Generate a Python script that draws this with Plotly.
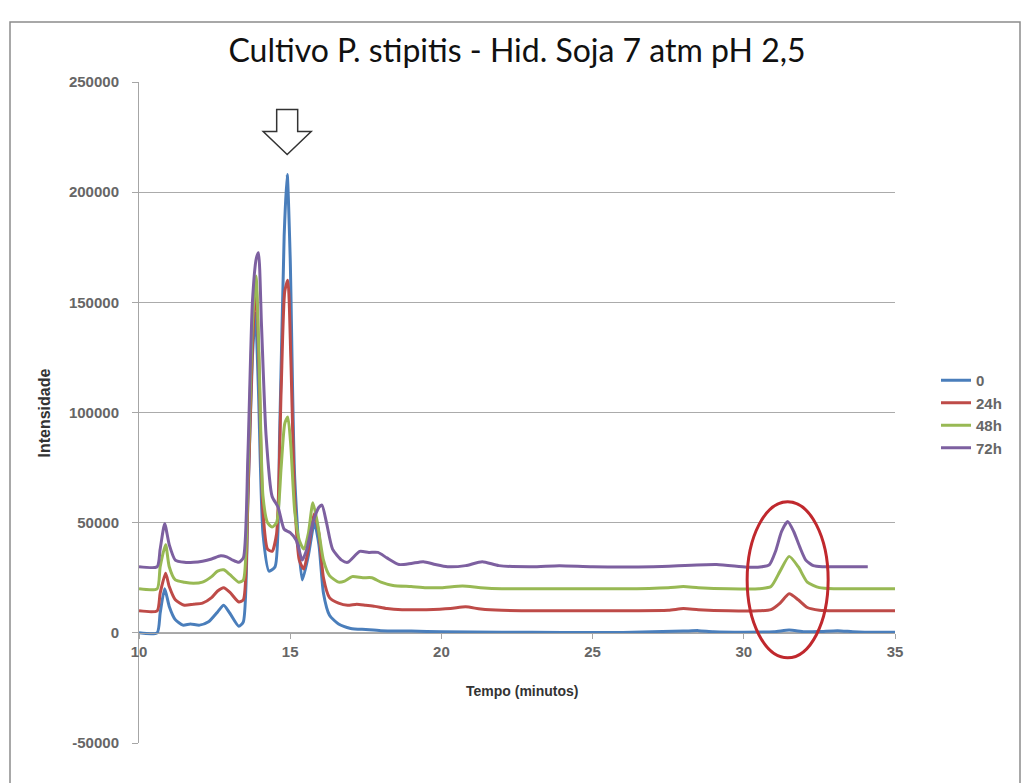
import plotly.graph_objects as go

# ---------------- data ----------------
title_text = "Cultivo P. stipitis - Hid. Soja 7 atm pH 2,5"
series_names = ["0", "24h", "48h", "72h"]
series_colors = ["#4A7EBB", "#BE4B48", "#98B954", "#7D60A0"]

t_0 = [10.0, 10.6, 10.7, 10.85, 11.0, 11.2, 11.45, 11.7, 12.0, 12.3, 12.6, 12.8, 13.0, 13.3,
       13.45, 13.6, 13.75, 13.85, 13.95, 14.1, 14.3, 14.5, 14.65, 14.8, 14.9, 15.0, 15.15,
       15.4, 15.6, 15.8, 15.95, 16.1, 16.3, 16.6, 17.0, 17.5, 18.0, 19.0, 20.0, 22.0, 24.0,
       26.0, 28.0, 28.5, 29.0, 30.0, 31.0, 31.5, 32.0, 32.5, 33.1, 33.6, 34.0, 35.0]
y_0 = [0, 0, 9000, 20000, 12000, 6000, 3500, 4000, 3500, 5000, 9500, 12500, 9000, 3000,
       5000, 60000, 125000, 145000, 110000, 45000, 28000, 30000, 90000, 180000, 208000, 170000, 70000,
       24000, 35000, 50000, 40000, 18000, 8000, 4000, 2000, 1500, 1000, 800, 500, 300, 200,
       200, 800, 1000, 500, 300, 500, 1300, 500, 600, 1000, 500, 300, 300]

t_24 = [10.0, 10.6, 10.7, 10.88, 11.0, 11.2, 11.5, 11.8, 12.1, 12.4, 12.6, 12.8, 13.0, 13.3,
        13.45, 13.6, 13.75, 13.87, 13.97, 14.1, 14.25, 14.4, 14.55, 14.7, 14.82, 14.92, 15.02,
        15.15, 15.3, 15.45, 15.6, 15.8, 15.95, 16.1, 16.3, 16.6, 16.9, 17.2, 17.5, 17.8, 18.2,
        18.7, 19.5, 20.3, 20.8, 21.3, 22.0, 24.0, 26.0, 27.5, 28.0, 28.5, 29.5, 30.5, 30.9,
        31.2, 31.5, 31.8, 32.1, 32.5, 33.0, 34.0, 35.0]
y_24 = [10000, 10000, 18000, 27000, 21000, 15000, 12500, 13000, 13500, 16000, 19000, 20500, 18500, 14000,
        15000, 60000, 130000, 158000, 120000, 55000, 38000, 37000, 45000, 110000, 155000, 160000, 125000,
        60000, 33000, 29000, 38000, 54000, 45000, 25000, 16000, 13500, 12500, 13000, 12500, 12000, 11000,
        10500, 10500, 11000, 11800, 10800, 10200, 10000, 10000, 10200, 11000, 10500, 10000, 10000, 10500,
        13500, 17700, 15000, 11500, 10300, 10000, 10000, 10000]

t_48 = [10.0, 10.6, 10.7, 10.88, 11.0, 11.2, 11.5, 11.8, 12.1, 12.4, 12.6, 12.8, 13.0, 13.3,
        13.45, 13.6, 13.75, 13.87, 13.97, 14.1, 14.25, 14.4, 14.55, 14.7, 14.82, 14.92, 15.02,
        15.15, 15.3, 15.45, 15.6, 15.75, 15.9, 16.1, 16.3, 16.6, 16.8, 17.05, 17.4, 17.7, 18.0,
        18.4, 19.0, 19.5, 20.0, 20.7, 21.3, 22.0, 24.0, 26.0, 27.5, 28.0, 28.5, 29.5, 30.5,
        30.9, 31.2, 31.5, 31.8, 32.1, 32.5, 33.0, 34.0, 35.0]
y_48 = [20000, 20000, 30000, 40000, 30000, 24000, 23000, 22500, 23000, 25500, 28000, 28600, 26500, 23000,
        24000, 70000, 140000, 162000, 125000, 62000, 50000, 48000, 50000, 75000, 95000, 98000, 85000,
        55000, 42000, 38000, 45000, 59000, 50000, 33000, 26000, 23000, 23500, 25500, 25000, 25000, 23000,
        21500, 21000, 20500, 20500, 21300, 20500, 20000, 20000, 20000, 20500, 21000, 20500, 20000, 20000,
        21000, 28000, 34700, 30000, 23000, 20500, 20000, 20000, 20000]

t_72 = [10.0, 10.6, 10.7, 10.85, 11.0, 11.2, 11.5, 11.8, 12.1, 12.4, 12.7, 12.9, 13.1, 13.3,
        13.45, 13.6, 13.75, 13.88, 13.95, 14.05, 14.2, 14.4, 14.6, 14.8, 15.0, 15.2, 15.4,
        15.55, 15.75, 15.95, 16.05, 16.2, 16.4, 16.7, 16.9, 17.3, 17.6, 17.9, 18.2, 18.6, 19.0,
        19.4, 19.8, 20.2, 20.8, 21.35, 21.9, 23.0, 23.9, 25.0, 27.0, 29.1, 30.1, 30.6, 30.85,
        31.05, 31.25, 31.45, 31.65, 31.85, 32.05, 32.3, 32.6, 33.2, 34.1]
y_72 = [30000, 30000, 38000, 49500, 40000, 33000, 32000, 32000, 32500, 33500, 35000, 34500, 33000, 32000,
        34000, 80000, 150000, 170000, 172500, 140000, 90000, 62000, 57000, 47000, 45500, 42000, 33000,
        38000, 50000, 57000, 58000, 50000, 38000, 33000, 32000, 37000, 36500, 36500, 34000, 31000, 31500,
        32300, 31000, 30000, 30500, 32300, 30500, 30000, 30500, 30000, 30000, 31000, 29800, 30000, 31000,
        37000, 46000, 50500, 46000, 39000, 33000, 30500, 30000, 30000, 30000]

x_ticks = [10, 15, 20, 25, 30, 35]
y_ticks = [-50000, 0, 50000, 100000, 150000, 200000, 250000]

series_t = [t_0, t_24, t_48, t_72]
series_y = [y_0, y_24, y_48, y_72]

# ---------------- figure ----------------
W, H = 1024, 783
L, R, T, B = 139, 129, 82, 40
pw, ph = W - L - R, H - T - B

fig = go.Figure()
for name, col, tt, yy in zip(series_names, series_colors, series_t, series_y):
    fig.add_trace(go.Scatter(x=tt, y=yy, name=name, mode="lines", legendgroup=name,
                             line=dict(color=col, width=3, shape="spline", smoothing=0.6)))

FONT = "Liberation Sans, Arial, sans-serif"
tick_font = dict(family=FONT, size=15, color="#666666", weight="bold")

fig.update_layout(
    width=W, height=H,
    margin=dict(l=L, r=R, t=T, b=B),
    paper_bgcolor="white", plot_bgcolor="white",
    title=dict(text=title_text, x=0.5, xref="paper", xanchor="center",
               y=1 - 51 / H, yref="container", yanchor="middle",
               font=dict(family="Lato, Open Sans, sans-serif", size=32, color="#111111")),
    xaxis=dict(range=[10, 35], tickvals=x_ticks, showgrid=False, zeroline=False,
               anchor="free", position=(0 - y_ticks[0]) / (y_ticks[-1] - y_ticks[0]),
               showline=True, linecolor="#a6a6a6", linewidth=1,
               ticks="outside", ticklen=5, tickcolor="#a6a6a6",
               tickfont=tick_font),
    yaxis=dict(range=[y_ticks[0], y_ticks[-1]], tickvals=y_ticks, ticktext=[str(v) for v in y_ticks],
               showgrid=True, gridcolor="#ababab", gridwidth=1.2, zeroline=False,
               showline=True, linecolor="#a6a6a6", linewidth=1,
               ticks="outside", ticklen=6, tickcolor="#a6a6a6",
               ticklabelstandoff=10, tickfont=tick_font),
    legend=dict(x=(936 - L) / pw, xanchor="left", y=(H - B - 364) / ph, yanchor="top",
                font=dict(family=FONT, size=15, color="#666666", weight="bold"),
                bgcolor="rgba(0,0,0,0)", borderwidth=0, tracegroupgap=0),
    showlegend=True,
)

# axis titles
fig.add_annotation(text="<b>Tempo (minutos)</b>", xref="paper", yref="paper",
                   x=(522 - L) / pw, y=(H - B - 701) / ph, showarrow=False,
                   font=dict(family=FONT, size=14, color="#333333"))
fig.add_annotation(text="<b>Intensidade</b>", xref="paper", yref="paper",
                   x=(33 - L) / pw, y=(H - B - 413) / ph, showarrow=False, textangle=-90,
                   font=dict(family=FONT, size=16, color="#333333"))

# chart border
fig.add_shape(type="rect", xref="paper", yref="paper",
              x0=(10 - L) / pw, x1=(1020 - L) / pw, y0=(H - B - 800) / ph, y1=(H - B - 22) / ph,
              line=dict(color="#8c8c8c", width=1.5), fillcolor="rgba(0,0,0,0)", layer="below")

# hollow arrow pointing at the main peak of series "0"
i_pk = y_0.index(max(y_0))
arrow_path = "M -10.5 65 L 10.5 65 L 10.5 43 L 24 43 L 0 20 L -24 43 L -10.5 43 Z"
fig.add_shape(type="path", xref="x", yref="y", xsizemode="pixel", ysizemode="pixel",
              xanchor=t_0[i_pk], yanchor=y_0[i_pk], path=arrow_path,
              line=dict(color="#333333", width=1.5), fillcolor="white")

# red ellipse around the late peak of series "72h"
j_pk = y_72.index(max(y_72[40:]))
fig.add_shape(type="circle", xref="x", yref="y", xsizemode="pixel", ysizemode="pixel",
              xanchor=t_72[j_pk], yanchor=0, x0=-40.5, x1=40.5, y0=-25, y1=131,
              line=dict(color="#C0282D", width=3), fillcolor="rgba(0,0,0,0)")

fig.write_html("out.html")
